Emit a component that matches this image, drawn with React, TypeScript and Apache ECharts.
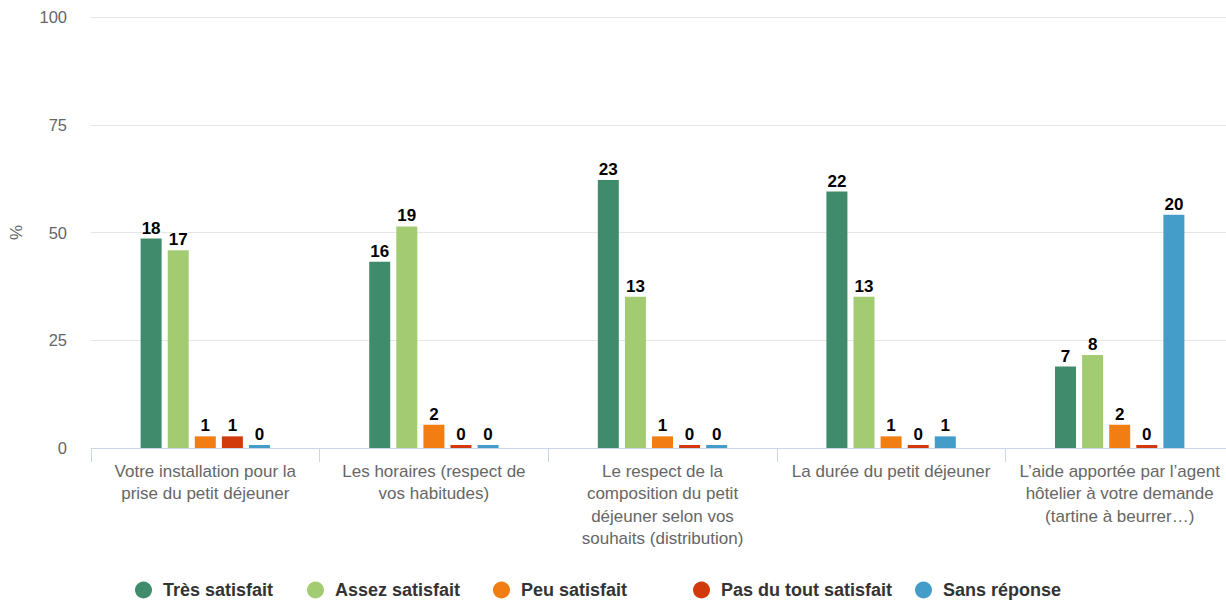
import React, { useEffect, useRef } from "react";
import * as echarts from "echarts";

const categories = [
  "Votre installation pour la\nprise du petit déjeuner",
  "Les horaires (respect de\nvos habitudes)",
  "Le respect de la\ncomposition du petit\ndéjeuner selon vos\nsouhaits (distribution)",
  "La durée du petit déjeuner",
  "L’aide apportée par l’agent\nhôtelier à votre demande\n(tartine à beurrer…)",
];

const seriesNames = [
  "Très satisfait",
  "Assez satisfait",
  "Peu satisfait",
  "Pas du tout satisfait",
  "Sans réponse",
];

const seriesColors = ["#3f8b6b", "#a3cb71", "#f17d13", "#d23a0c", "#449cc8"];

// bar heights, in %
const tresPct = [48.6, 43.2, 62.2, 59.5, 18.9];
const assezPct = [45.9, 51.4, 35.1, 35.1, 21.6];
const peuPct = [2.7, 5.4, 2.7, 2.7, 5.4];
const pasPct = [2.7, 0, 0, 0, 0];
const sansPct = [0, 0, 0, 2.7, 54.1];

// data labels (respondent counts)
const tresCount = [18, 16, 23, 22, 7];
const assezCount = [17, 19, 13, 13, 8];
const peuCount = [1, 2, 1, 1, 2];
const pasCount = [1, 0, 0, 0, 0];
const sansCount = [0, 0, 0, 1, 20];

const yTicks = [0, 25, 50, 75, 100];

const pctData = [tresPct, assezPct, peuPct, pasPct, sansPct];
const countData = [tresCount, assezCount, peuCount, pasCount, sansCount];

const legendLefts = [135, 307, 493, 693, 915];

const FONT = "'Liberation Sans', Arial, Helvetica, sans-serif";

export default function App() {
  const ref = useRef<HTMLDivElement>(null);

  useEffect(() => {
    if (!ref.current) return;
    const chart = echarts.init(ref.current, undefined, { renderer: "svg" });
    chart.setOption({
      animation: false,
      textStyle: { fontFamily: FONT },
      grid: { left: 91, top: 17, width: 1143, height: 431, containLabel: false },
      legend: seriesNames.map((n, i) => ({
        left: legendLefts[i],
        top: 581,
        padding: 0,
        itemWidth: 17,
        itemHeight: 17,
        icon: "circle",
        textStyle: {
          fontFamily: FONT,
          fontSize: 18,
          lineHeight: 17,
          fontWeight: "bold",
          color: "#333333",
          padding: [0, 0, 0, 6],
        },
        data: [n],
      })),
      xAxis: {
        type: "category",
        data: categories,
        boundaryGap: true,
        axisLine: { show: true, lineStyle: { color: "#ccd6eb", width: 1 } },
        axisTick: { show: true, length: 14, lineStyle: { color: "#ccd6eb" } },
        axisLabel: {
          color: "#666666",
          fontFamily: FONT,
          fontSize: 17,
          lineHeight: 22.5,
          margin: 12,
          interval: 0,
        },
        splitLine: { show: false },
      },
      yAxis: {
        type: "value",
        min: yTicks[0],
        max: yTicks[yTicks.length - 1],
        interval: 25,
        name: "%",
        nameLocation: "middle",
        nameGap: 66,
        nameRotate: 90,
        nameTextStyle: { color: "#666666", fontFamily: FONT, fontSize: 17 },
        axisLine: { show: false },
        axisTick: { show: false },
        axisLabel: { color: "#666666", fontFamily: FONT, fontSize: 16.5, margin: 24 },
        splitLine: { lineStyle: { color: "#e6e6e6", width: 1 } },
      },
      series: seriesNames.map((name, si) => ({
        name,
        type: "bar",
        data: pctData[si],
        barWidth: 21,
        barGap: "29%",
        barMinHeight: 3,
        itemStyle: { color: seriesColors[si] },
        label: {
          show: true,
          position: "top",
          distance: 2,
          color: "#000000",
          fontFamily: FONT,
          fontSize: 17,
          fontWeight: "bold",
          textBorderColor: "#ffffff",
          textBorderWidth: 2,
          formatter: (p: any) => String(countData[si][p.dataIndex]),
        },
      })),
    });
    return () => chart.dispose();
  }, []);

  return (
    <div
      style={{
        position: "absolute",
        left: 0,
        top: 0,
        width: 1226,
        height: 600,
        overflow: "hidden",
        background: "#ffffff",
      }}
    >
      <div ref={ref} style={{ width: 1250, height: 600 }} />
    </div>
  );
}
